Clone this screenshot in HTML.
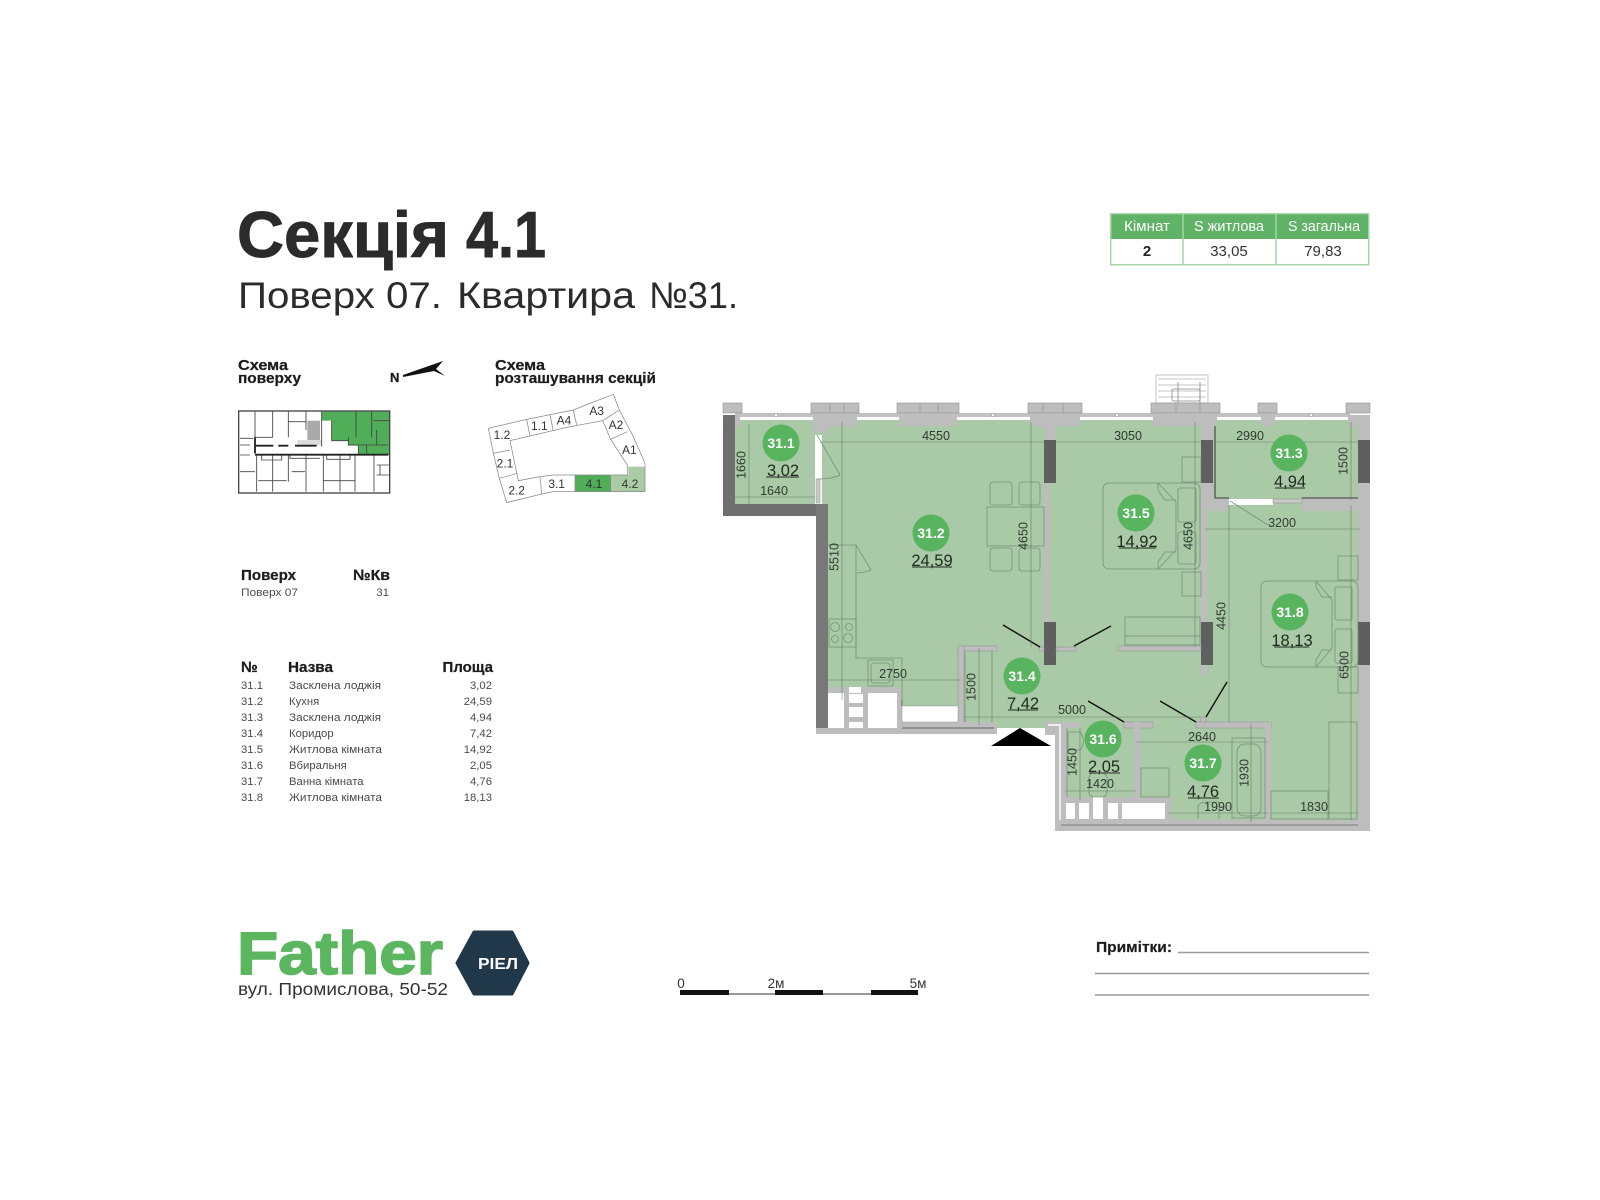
<!DOCTYPE html>
<html lang="uk"><head><meta charset="utf-8"><title>Секція 4.1</title>
<style>
html,body{margin:0;padding:0;background:#fff;width:1600px;height:1200px;overflow:hidden}
svg{display:block}
text{font-family:"Liberation Sans","Noto Sans CJK SC",sans-serif}
.d{font-size:12.5px;fill:#2f3a30;text-anchor:middle}
.v{font-size:16.5px;fill:#1f2a20;text-anchor:middle}
.b{font-size:14px;font-weight:700;fill:#fff;text-anchor:middle}
.dim{stroke:#55705a;stroke-width:.6;fill:none;stroke-opacity:.8}
.f{stroke:#6c8a6e;stroke-width:.8;fill:none;stroke-opacity:.85}
.r{font-size:11.3px;fill:#4a4a4a}
.h{font-size:15px;font-weight:700;fill:#1c1c1c;stroke:#1c1c1c;stroke-width:.25}
.ta{text-anchor:middle}
.e{text-anchor:end}
.s{font-size:36px;fill:#333;text-anchor:middle}
</style></head><body>
<svg width="1600" height="1200" viewBox="0 0 1600 1200" xmlns="http://www.w3.org/2000/svg">
<defs><filter id="soft" x="0" y="0" width="1600" height="1200" filterUnits="userSpaceOnUse" color-interpolation-filters="sRGB"><feGaussianBlur stdDeviation="0.35"/></filter></defs>
<rect width="1600" height="1200" fill="#fff"/>
<g filter="url(#soft)">

<!-- header -->
<g font-size="65" font-weight="700" fill="#2b2b2b" stroke="#2b2b2b" stroke-width=".9">
<text x="237" y="257" textLength="212" lengthAdjust="spacingAndGlyphs">Секція</text>
<text x="466" y="257" textLength="80" lengthAdjust="spacingAndGlyphs">4.1</text>
</g>
<g font-size="37" fill="#2b2b2b">
<text x="238" y="308" textLength="204" lengthAdjust="spacingAndGlyphs">Поверх 07.</text>
<text x="457" y="308" textLength="178" lengthAdjust="spacingAndGlyphs">Квартира</text>
<text x="649" y="308" textLength="89" lengthAdjust="spacingAndGlyphs">№31.</text>
</g>

<!-- top table -->
<rect x="1110" y="213" width="259" height="26" fill="#5fb266"/>
<rect x="1110.7" y="213.7" width="258" height="51" fill="none" stroke="#a6d5a8" stroke-width="1.5"/>
<path d="M1183 213V265M1276 213V265" stroke="#a6d5a8" stroke-width="1.5"/>
<g font-size="15" text-anchor="middle">
<text x="1147" y="231" fill="#fff" textLength="46" lengthAdjust="spacingAndGlyphs">Кімнат</text>
<text x="1229" y="231" fill="#fff" textLength="70" lengthAdjust="spacingAndGlyphs">S житлова</text>
<text x="1324" y="231" fill="#fff" textLength="72" lengthAdjust="spacingAndGlyphs">S загальна</text>
<text x="1147" y="256" font-weight="700" fill="#222">2</text>
<text x="1229" y="256" fill="#333">33,05</text>
<text x="1323" y="256" fill="#333">79,83</text>
</g>

<!-- schema labels -->
<text class="h" x="238" y="370" textLength="50" lengthAdjust="spacingAndGlyphs">Схема</text>
<text class="h" x="238" y="383" textLength="63" lengthAdjust="spacingAndGlyphs">поверху</text>
<text class="h" x="495" y="370" textLength="50" lengthAdjust="spacingAndGlyphs">Схема</text>
<text class="h" x="495" y="383" textLength="161" lengthAdjust="spacingAndGlyphs">розташування секцій</text>
<text class="h" x="390" y="382" style="font-size:13px">N</text>
<path d="M403 375L443 361L436 369L445 376L434 371L403 377Z" fill="#111"/>

<!-- mini floor plan -->
<g transform="translate(220 350) scale(.33333)">
<path d="M305 185H508V315H415V287H385V272H335V212H305Z" fill="#4fae57"/>
<rect x="262" y="212" width="38" height="72" fill="#aaa"/>
<rect x="300" y="225" width="30" height="20" fill="#fff"/>
<rect x="232" y="270" width="75" height="16" fill="#ddd"/>
<g fill="none" stroke="#444" stroke-width="2.6">
<rect x="56" y="183" width="453" height="246" stroke-width="4"/>
<path d="M105 183V262M158 183V262M205 183V262M258 183V240M305 183V290M105 262H158M205 215H258M60 265H100M60 285H90"/>
<path d="M335 212V272H385M408 183V262M455 183V262M460 212H508M385 262V285H505M415 285V315M440 285V310M470 240V285"/>
<path d="M110 315V425M158 315V425M205 315V395M258 315V425M310 315V425M360 315V425M405 315V425M462 315V425M60 365H105M115 392H200M215 365H255M310 392H405M470 345H508M470 375H508M480 345V375"/>
<path d="M60 315H90M125 315V330H185V315M210 315V325H300M320 315V328H390V315"/>
</g>
<path d="M105 262V310M105 287H160M175 287H205M225 287H290M105 314H505" stroke="#222" stroke-width="5.5" fill="none"/>
</g>

<!-- sections schema -->
<g transform="translate(220 350) scale(.33333)">
<path d="M1065 375H1172V425H1065Z" fill="#4fae57"/>
<path d="M1172 375H1225V350H1275V425H1172Z" fill="#aacba6"/>
<g fill="none" stroke="#888" stroke-width="2.2">
<path d="M805 235L920 208L1060 180L1105 162L1180 133L1198 180L1240 260L1275 340V425H1000L965 432L860 458L838 385L820 310Z"/>
<path d="M870 272L1040 232L1148 212L1172 268L1222 345V375H1000L960 380L895 392Z"/>
<path d="M920 208L930 258M990 195L1000 243M1060 180L1070 225M1198 180L1148 212M1222 245L1172 268M820 310L870 300M838 385L893 370M960 380L965 432M1065 375V425M1172 375V425"/>
</g>
<text class="s" x="846" y="267">1.2</text><text class="s" x="958" y="240">1.1</text><text class="s" x="1032" y="224">A4</text>
<text class="s" x="1130" y="195">A3</text><text class="s" x="1188" y="237">A2</text><text class="s" x="1228" y="312">A1</text>
<text class="s" x="855" y="352">2.1</text><text class="s" x="890" y="434">2.2</text><text class="s" x="1010" y="414">3.1</text>
<text class="s" x="1122" y="414">4.1</text><text class="s" x="1230" y="414">4.2</text>
</g>

<!-- info -->
<text class="h" x="241" y="580" textLength="55" lengthAdjust="spacingAndGlyphs">Поверх</text>
<text class="h" x="353" y="580" textLength="37" lengthAdjust="spacingAndGlyphs">№Кв</text>
<text class="r" x="241" y="596" textLength="57" lengthAdjust="spacingAndGlyphs">Поверх 07</text>
<text class="r e" x="389" y="596">31</text>

<text class="h" x="241" y="672">№</text>
<text class="h" x="288" y="672" textLength="45" lengthAdjust="spacingAndGlyphs">Назва</text>
<text class="h e" x="493" y="672">Площа</text>
<g>
<text class="r" x="241" y="689">31.1</text><text class="r" x="289" y="689" textLength="92" lengthAdjust="spacingAndGlyphs">Засклена лоджія</text><text class="r e" x="492" y="689">3,02</text>
<text class="r" x="241" y="705">31.2</text><text class="r" x="289" y="705">Кухня</text><text class="r e" x="492" y="705">24,59</text>
<text class="r" x="241" y="721">31.3</text><text class="r" x="289" y="721" textLength="92" lengthAdjust="spacingAndGlyphs">Засклена лоджія</text><text class="r e" x="492" y="721">4,94</text>
<text class="r" x="241" y="737">31.4</text><text class="r" x="289" y="737">Коридор</text><text class="r e" x="492" y="737">7,42</text>
<text class="r" x="241" y="753">31.5</text><text class="r" x="289" y="753" textLength="93" lengthAdjust="spacingAndGlyphs">Житлова кімната</text><text class="r e" x="492" y="753">14,92</text>
<text class="r" x="241" y="769">31.6</text><text class="r" x="289" y="769">Вбиральня</text><text class="r e" x="492" y="769">2,05</text>
<text class="r" x="241" y="785">31.7</text><text class="r" x="289" y="785">Ванна кімната</text><text class="r e" x="492" y="785">4,76</text>
<text class="r" x="241" y="801">31.8</text><text class="r" x="289" y="801" textLength="93" lengthAdjust="spacingAndGlyphs">Житлова кімната</text><text class="r e" x="492" y="801">18,13</text>
</g>

<!-- PLAN -->
<path d="M735 417H1358V820H1061V728H828V504H735Z" fill="#aac9a6"/>

<!-- balcony thing on top -->
<g fill="none" stroke="#b5b5b5" stroke-width=".8">
<rect x="1156" y="375" width="52" height="28"/>
<path d="M1158 379H1206M1158 385H1206M1158 391H1206M1158 397H1206"/>
<rect x="1172" y="389" width="28" height="12" rx="2" stroke="#888"/>
<path d="M1178 382V403M1200 382V403" stroke="#888"/>
</g>

<!-- facade -->
<rect x="735" y="413" width="615" height="4" fill="#c2c2c2"/>
<rect x="735" y="417" width="615" height="3" fill="#fff"/>
<g fill="#fff" stroke="#999" stroke-width=".6">
<circle cx="776" cy="415" r="1.6"/><circle cx="993" cy="415" r="1.6"/><circle cx="1117" cy="415" r="1.6"/><circle cx="1311" cy="415" r="1.6"/>
</g>

<!-- window piers -->
<g fill="#bdbdbd" stroke="#8f8f8f" stroke-width=".6">
<rect x="723" y="403" width="19" height="10"/>
<rect x="811" y="403" width="48" height="10"/>
<rect x="897" y="403" width="62" height="10"/>
<rect x="1028" y="403" width="54" height="10"/>
<rect x="1151" y="403" width="69" height="10"/>
<rect x="1258" y="403" width="19" height="10"/>
<rect x="1346" y="403" width="24" height="10"/>
</g>
<path d="M830 403V413M844 403V413M920 403V413M938 403V413M1043 403V413M1063 403V413M1176 403V413M1200 403V413" stroke="#8f8f8f" stroke-width=".6"/>
<g fill="#bdbdbd">
<rect x="735" y="415" width="5" height="11"/>
<path d="M813 415H857V427H828V433H813Z"/>
<rect x="899" y="415" width="58" height="11"/>
<rect x="1030" y="415" width="50" height="11"/>
<rect x="1153" y="415" width="64" height="11"/>
<rect x="1261" y="415" width="14" height="11"/>
<rect x="1348" y="415" width="22" height="12"/>
<rect x="1044" y="426" width="12" height="14"/>
<rect x="1201" y="426" width="12" height="14"/>
<rect x="1358" y="427" width="12" height="403"/>
<rect x="1044" y="483" width="6" height="139"/>
<rect x="1201" y="483" width="12" height="16"/>
<rect x="1201" y="499" width="6" height="123"/>
<path d="M1207 483H1213V499H1228V511H1207Z"/>
<rect x="1302" y="499" width="56" height="12"/>
<rect x="1201" y="665" width="6" height="9"/>
</g>
<path d="M1215 426V498H1229M1302 498H1358" stroke="#666" stroke-width="1.6" fill="none"/>
<rect x="1229" y="499" width="44" height="6" fill="#fff"/>
<rect x="1273" y="499" width="29" height="4" fill="#c9c9c9" stroke="#8f8f8f" stroke-width=".5"/>
<!-- loggia 31.1 walls -->
<rect x="723" y="415" width="12" height="101" fill="#6f6f6f"/>
<rect x="723" y="504" width="105" height="12" fill="#6f6f6f"/>
<rect x="816" y="504" width="12" height="230" fill="#787878"/>
<rect x="815" y="435" width="7" height="69" fill="#fff"/>
<rect x="816" y="479" width="4" height="24" fill="#c9c9c9" stroke="#8f8f8f" stroke-width=".5"/>
<path d="M817 435L840 475Q832 479 818 479" class="f"/>
<!-- dark piers -->
<g fill="#5f5f5f">
<rect x="1044" y="440" width="12" height="43"/>
<rect x="1044" y="622" width="12" height="43"/>
<rect x="1201" y="440" width="12" height="43"/>
<rect x="1201" y="622" width="12" height="43"/>
<rect x="1358" y="440" width="12" height="43"/>
<rect x="1358" y="622" width="12" height="43"/>
</g>
<!-- sills -->
<g fill="#bdbdbd" stroke="#8f8f8f" stroke-width=".5">
<rect x="1039" y="647" width="5" height="4"/><rect x="1056" y="647" width="20" height="4"/>
<rect x="1118" y="646" width="83" height="5"/>
<rect x="1124" y="722" width="29" height="6"/>
<rect x="1196" y="722" width="75" height="6"/>
<rect x="1201" y="717" width="5" height="5"/>
<rect x="958" y="646" width="39" height="5"/>
<rect x="958" y="646" width="6" height="82"/>
</g>
<!-- kitchen bottom block -->
<path d="M816 734V728H828V687H902V722H997V734Z" fill="#bdbdbd"/>
<rect x="902" y="706" width="56" height="16" fill="#fff" stroke="#999" stroke-width=".5"/>
<path d="M902 700V706M902 728H994" stroke="#777" stroke-width="1.2"/>
<g fill="#fff">
<rect x="828" y="693" width="16" height="35"/>
<rect x="849" y="687" width="12" height="6"/>
<rect x="849" y="694" width="14" height="9"/>
<rect x="849" y="707" width="14" height="10"/>
<rect x="849" y="722" width="14" height="6"/>
<rect x="868" y="693" width="29" height="35"/>
</g>
<!-- bathroom block -->
<path d="M1045 722H1080V728H1067V820H1370V831H1055V735H1045Z" fill="#bdbdbd"/>
<path d="M1048 725H1060V820" fill="none" stroke="#fff" stroke-width="1.4"/>
<path d="M1061 825H1358" stroke="#888" stroke-width="1.2"/>
<rect x="1134" y="722" width="6" height="76" fill="#bdbdbd"/>
<path d="M1067 797H1171V820H1067Z" fill="#bdbdbd"/>
<rect x="1265" y="722" width="6" height="98" fill="#bdbdbd"/>
<g fill="#fff">
<rect x="1066" y="803" width="9" height="16"/><rect x="1079" y="803" width="10" height="16"/>
<rect x="1093" y="797" width="10" height="22"/><rect x="1108" y="803" width="10" height="16"/>
<rect x="1122" y="803" width="43" height="16"/>
</g>

<!-- arrow -->
<path d="M991 746L1020 728L1051 746Z" fill="#000"/>

<!-- door swings -->
<path d="M1003 625L1040 647M1074 646L1111 626M1088 701L1124 722M1160 701L1196 722M1206 717L1227 682" stroke="#111" stroke-width="1.4" fill="none"/>
<path d="M1230 501L1268 525" class="f"/>

<!-- furniture -->
<g class="f">
<rect x="987" y="507" width="57" height="39"/>
<rect x="990" y="482" width="22" height="23" rx="3"/><rect x="1019" y="482" width="21" height="23" rx="3"/>
<rect x="990" y="548" width="22" height="23" rx="3"/><rect x="1019" y="548" width="21" height="23" rx="3"/>
<path d="M828 545H856V658H902V700M856 545L871 570Q864 573 857 573"/>
<rect x="829" y="619" width="27" height="28"/>
<circle cx="835" cy="627" r="4.5"/><circle cx="849" cy="627" r="3.5"/><circle cx="835" cy="639" r="3.5"/><circle cx="848" cy="638" r="4.5"/>
<rect x="868" y="660" width="25" height="26"/><rect x="871" y="663" width="19" height="20" rx="3"/>
<rect x="1103" y="483" width="97" height="86" rx="6"/>
<rect x="1178" y="488" width="18" height="34" rx="2"/><rect x="1178" y="532" width="18" height="32" rx="2"/>
<path d="M1158 483L1176 502V550L1158 569M1158 483V490L1165 500H1176M1158 569V562L1165 552H1176"/>
<rect x="1182" y="457" width="19" height="25"/><rect x="1182" y="572" width="19" height="24"/>
<rect x="1125" y="617" width="75" height="28"/><path d="M1125 636H1200"/>
<rect x="1261" y="581" width="97" height="86" rx="6"/>
<rect x="1335" y="587" width="17" height="33" rx="2"/><rect x="1335" y="629" width="17" height="34" rx="2"/>
<path d="M1316 581L1332 600V648L1316 667M1316 581V587L1322 597H1332M1316 667V660L1322 650H1332"/>
<rect x="1338" y="556" width="20" height="24"/><rect x="1338" y="667" width="20" height="26"/>
<rect x="1232" y="738" width="33" height="80"/><rect x="1237" y="744" width="24" height="72" rx="8"/>
<rect x="1141" y="768" width="28" height="29"/>
<path d="M1198 819V808Q1198 802 1207 802H1219V819"/>
<path d="M1068 732H1080Q1087 741 1080 750H1068Z"/>
<rect x="1089" y="773" width="18" height="24" rx="5"/>
<rect x="1329" y="722" width="28" height="97"/><rect x="1271" y="791" width="57" height="28"/>
</g>

<!-- dimension lines -->
<g class="dim">
<path d="M820 442H1044M1056 442H1201M1215 442H1358"/>
<path d="M749 424V505M734 497H815"/>
<path d="M842 422V700M1031 422V647M1195 422V647"/>
<path d="M1351 422V500M1205 529H1360M1229 505V722M1351 505V820"/>
<path d="M828 680H960M979 648V725M964 717H1200M1067 728V797M1080 728V800"/>
<path d="M1065 791H1136M1136 742H1268M1251 724V822M1168 813H1268M1271 813H1358"/>
<path d="M965 651V722M992 651V722"/>
</g>

<!-- dimension labels -->
<g>
<text class="d" x="936" y="440">4550</text>
<text class="d" x="1128" y="440">3050</text>
<text class="d" x="1250" y="440">2990</text>
<text class="d" x="774" y="495">1640</text>
<text class="d" x="1282" y="527">3200</text>
<text class="d" x="893" y="678">2750</text>
<text class="d" x="1072" y="714">5000</text>
<text class="d" x="1100" y="788">1420</text>
<text class="d" x="1202" y="741">2640</text>
<text class="d" x="1218" y="811">1990</text>
<text class="d" x="1314" y="811">1830</text>
<text class="d" transform="translate(745.500 465) rotate(-90)">1660</text>
<text class="d" transform="translate(838.500 557) rotate(-90)">5510</text>
<text class="d" transform="translate(1027.500 536) rotate(-90)">4650</text>
<text class="d" transform="translate(1192.500 536) rotate(-90)">4650</text>
<text class="d" transform="translate(1347.500 461) rotate(-90)">1500</text>
<text class="d" transform="translate(1225.500 616) rotate(-90)">4450</text>
<text class="d" transform="translate(1348.500 665) rotate(-90)">6500</text>
<text class="d" transform="translate(975.500 687) rotate(-90)">1500</text>
<text class="d" transform="translate(1076.500 762) rotate(-90)">1450</text>
<text class="d" transform="translate(1248.500 773) rotate(-90)">1930</text>
</g>

<!-- room badges -->
<g fill="#58b45f">
<circle cx="781" cy="443" r="18.500"/><circle cx="931" cy="533" r="18.500"/><circle cx="1289" cy="453" r="18.500"/>
<circle cx="1136" cy="513" r="18.500"/><circle cx="1290" cy="612" r="18.500"/><circle cx="1022" cy="676" r="18.500"/>
<circle cx="1103" cy="739" r="18.500"/><circle cx="1203" cy="763" r="18.500"/>
</g>
<g>
<text class="b" x="781" y="448">31.1</text><text class="b" x="931" y="538">31.2</text><text class="b" x="1289" y="458">31.3</text>
<text class="b" x="1136" y="518">31.5</text><text class="b" x="1290" y="617">31.8</text><text class="b" x="1022" y="681">31.4</text>
<text class="b" x="1103" y="744">31.6</text><text class="b" x="1203" y="768">31.7</text>
</g>
<g>
<text class="v" x="783" y="476">3,02</text><text class="v" x="932" y="566">24,59</text><text class="v" x="1290" y="487">4,94</text>
<text class="v" x="1137" y="547">14,92</text><text class="v" x="1292" y="646">18,13</text><text class="v" x="1023" y="709">7,42</text>
<text class="v" x="1104" y="772">2,05</text><text class="v" x="1203" y="797">4,76</text>
</g>
<path d="M766 477H799M912 567H952M1275 488H1305M1119 548H1156M1274 647H1309M1008 710H1038M1089 773H1120M1188 798H1219" stroke="#1f2a20" stroke-width="1"/>

<!-- footer -->
<text x="237" y="974" font-size="60" font-weight="700" fill="#5cb660" stroke="#5cb660" stroke-width="1.6" textLength="206" lengthAdjust="spacingAndGlyphs">Father</text>
<text x="238" y="995" font-size="17.500" fill="#333" textLength="210" lengthAdjust="spacingAndGlyphs">вул. Промислова, 50-52</text>
<path d="M474 932H512L528 963L512 994H474L457 963Z" fill="#20384a" stroke="#20384a" stroke-width="3" stroke-linejoin="round"/>
<text x="498" y="969" font-size="16" font-weight="700" fill="#fff" text-anchor="middle" textLength="40" lengthAdjust="spacingAndGlyphs">РІЕЛ</text>

<g>
<rect x="680" y="990" width="238" height="5" fill="#111"/>
<rect x="729" y="990" width="46" height="3" fill="#fff"/><rect x="729" y="993" width="46" height="2" fill="#999"/>
<rect x="823" y="990" width="48" height="3" fill="#fff"/><rect x="823" y="993" width="48" height="2" fill="#999"/>
<g font-size="13.500" fill="#333" text-anchor="middle">
<text x="681" y="988">0</text><text x="776" y="988">2м</text><text x="918" y="988">5м</text>
</g>
</g>

<text x="1096" y="952" font-size="15" font-weight="700" fill="#1c1c1c" stroke="#1c1c1c" stroke-width=".2" textLength="76" lengthAdjust="spacingAndGlyphs">Примітки:</text>
<path d="M1178 952.500H1369M1095 973.500H1369M1095 995H1369" stroke="#9a9a9a" stroke-width="1.400"/>
</g>
</svg>
</body></html>
